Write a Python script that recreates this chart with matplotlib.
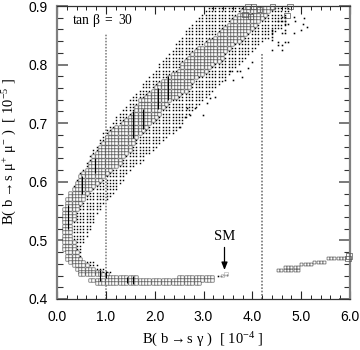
import numpy as np
import matplotlib
matplotlib.use("Agg")
import matplotlib.pyplot as plt

plt.rcParams['font.family'] = ['Liberation Sans', 'DejaVu Sans']
plt.rcParams['mathtext.fontset'] = 'custom'
plt.rcParams['mathtext.rm'] = 'Liberation Serif'
plt.rcParams['mathtext.it'] = 'Liberation Serif'
plt.rcParams['mathtext.bf'] = 'Liberation Serif:bold'
plt.rcParams['mathtext.fallback'] = 'stix'

# scan rows: B(b->s mu mu), then extents of the dots and of the boxes in B(b->s gamma)
row_y = [.8966,.8910,.8853,.8797,.8741,.8684,.8628,.8572,.8515,.8459,.8403,.8347,.8290,.8234,.8178,.8121,
         .8065,.8009,.7952,.7896,.7840,.7783,.7727,.7671,.7614,.7558,.7502,.7445,.7389,.7333,.7276,.7220,
         .7164,.7107,.7051,.6995,.6938,.6882,.6826,.6769,.6713,.6657,.6601,.6544,.6488,.6432,.6375,.6319,
         .6263,.6206,.6150,.6094,.6038,.5981,.5925,.5869,.5812,.5756,.5700,.5643,.5587,.5531,.5474,.5418,
         .5362,.5306,.5249,.5193,.5137,.5080,.5024,.4968,.4911,.4855,.4799,.4742,.4686,.4630,.4574,.4518,.4461]
dot_left = [3.05,2.99,2.93,2.86,2.80,2.73,2.67,2.61,2.57,2.55,2.50,2.43,2.37,2.30,2.24,2.19,
            2.14,2.08,2.03,1.97,1.92,1.86,1.81,1.75,1.70,1.64,1.59,1.54,1.48,1.43,1.37,1.32,
            1.26,1.21,1.15,1.10,1.05,.99,.94,.90,.86,.82,.78,.74,.70,.66,.62,.59,
            .55,.51,.47,.43,.40,.36,.33,.29,.26,.23,.21,.19,.17,.15,.12,.10,
            .10,.10,.10,.10,.10,.10,.11,.13,.15,.17,.18,.20,.25,.30,.45,.42,.45]
dot_right = [4.77,4.75,4.73,4.71,4.69,4.67,4.60,4.52,4.44,4.35,4.24,4.17,4.11,4.04,3.97,3.90,
             3.83,3.77,3.70,3.63,3.55,3.48,3.40,3.33,3.26,3.19,3.13,3.07,3.01,2.95,2.89,2.82,
             2.75,2.68,2.62,2.60,2.54,2.46,2.37,2.29,2.21,2.13,2.05,1.97,1.90,1.82,1.76,1.69,
             1.62,1.54,1.47,1.40,1.36,1.32,1.27,1.23,1.16,1.09,1.02,.98,.93,.89,.84,.81,
             .79,.76,.73,.69,.65,.61,.58,.56,.54,.52,.50,.49,.48,.78,.85,.97,1.10]
box_left = [3.85,3.77,3.70,3.63,3.56,3.49,3.42,3.35,3.27,3.19,3.10,2.98,2.87,2.78,2.72,2.66,
            2.61,2.56,2.52,2.46,2.36,2.25,2.16,2.08,2.02,1.96,1.87,1.78,1.69,1.65,1.61,1.57,
            1.53,1.47,1.38,1.29,1.20,1.11,1.04,1.00,.96,.91,.87,.82,.78,.74,.70,.66,
            .62,.56,.50,.46,.42,.39,.35,.31,.26,.22,.19,.17,.15,.13,.11,.10,
            .10,.10,.10,.10,.10,.10,.10,.11,.12,.13,.15,.17,.20,.23,.29,.35,.42]
box_right = [4.40,4.33,4.28,4.24,4.17,4.09,4.00,3.93,3.86,3.80,3.72,3.64,3.56,3.48,3.43,3.38,
             3.32,3.24,3.15,3.07,2.98,2.90,2.82,2.77,2.72,2.66,2.56,2.45,2.35,2.28,2.22,2.16,
             2.10,2.04,1.97,1.90,1.84,1.77,1.70,1.66,1.62,1.58,1.54,1.50,1.45,1.39,1.34,1.29,
             1.22,1.14,1.08,1.01,.94,.87,.79,.73,.66,.60,.55,.50,.46,.42,.39,.37,
             .35,.33,.31,.31,.31,.31,.32,.35,.37,.40,.43,.47,.52,.58,.67,.75,.92]

# lower branch and right-hand branch: row value, start, stop
low_y = [.4430, .4375, .4375, .4319, .4268]
low_left = [.45, .98, 2.50, .63, .78]
low_right = [1.05, 1.66, 3.24, 3.24, 2.93]
right_y = [.4495, .4500, .4550, .4600, .4635, .4700]
right_left = [4.47, 4.62, 4.62, 4.95, 5.22, 5.49]
right_right = [4.62, 4.95, 4.95, 5.25, 5.49, 5.93]

# isolated points
stray_x = [5.06,5.04,5.12,5.00,4.85,4.87,4.85,4.67,4.61,4.53,4.73,4.67,4.53,4.61,4.40,4.61,4.67,4.73,4.67,
           4.40,4.40,4.40,4.40,4.61,4.67,4.61,4.53,4.67,3.99,3.91,3.79,3.60,3.44,3.24,3.13,3.07,2.99,2.83,
           2.72,2.62,2.66,2.52,3.69,3.75,3.54,3.30,3.36,3.42,3.48]
stray_y = [.8795,.869,.864,.859,.854,.874,.881,.854,.854,.839,.839,.839,.833,.833,.825,.825,.869,.869,.859,
           .859,.854,.847,.842,.881,.881,.874,.874,.874,.804,.794,.779,.774,.774,.745,.743,.735,.714,.726,
           .714,.711,.726,.693,.789,.789,.789,.4385,.4395,.4405,.4405]
big_x = [3.91, 4.03, 4.42, 4.77, 4.71, 3.97, 4.14, 3.85, 5.96, 5.98]
big_y = [.8990, .8990, .8990, .8990, .8840, .8820, .8940, .8860, .4690, .4735]
seam_x = [.78, 1.56, 1.76, 2.07, 2.27, .22, .51, .88, 1.56, 1.00, 1.43]
seam_lo = [.615, .675, .690, .725, .740, .520, .580, .430, .426, .435, .428]
seam_hi = [.640, .720, .725, .760, .780, .560, .610, .450, .440, .447, .438]
sm_x = [3.38, 3.46]
sm_y = [.4395, .4440]

xticks = [0, 1, 2, 3, 4, 5, 6]
yticks = [.4, .5, .6, .7, .8, .9]
step = 0.0676


def lattice(ys, lefts, rights):
    xs, yy = [], []
    for y, a, b in zip(ys, lefts, rights):
        k = np.arange(np.ceil(a / step), np.floor(b / step) + 1)
        xs.extend(k * step)
        yy.extend([y] * len(k))
    return xs, yy


fig = plt.figure(figsize=(3.6, 3.5), dpi=100)
ax = fig.add_axes([57 / 360, 51 / 350, 293 / 360, 293 / 350])
ax.set_xlim(0, 6)
ax.set_ylim(.4, .9)

ax.plot([1, 1], [.4, .852], ls=(0, (1, 1)), lw=1.1, color='#777777', zorder=1)
ax.plot([4.2, 4.2], [.4, .82], ls=(0, (1, 1)), lw=1.2, color='#777777', zorder=1)

dx, dy = lattice(row_y, dot_left, dot_right)
dots = ax.scatter(dx, dy, s=1.1, marker='s', c='black', linewidths=0, zorder=2)
dots.set_snap(False)
strays = ax.scatter(stray_x, stray_y, s=1.3, marker='s', c='black', linewidths=0, zorder=2)
strays.set_snap(False)

bx, by = lattice(row_y + low_y, box_left + low_left, box_right + low_right)
boxes = ax.scatter(bx, by, s=5.6, marker='s', facecolors='white', edgecolors='#222222', linewidths=.36, zorder=3)
boxes.set_snap(False)
rx, ry = lattice(right_y, right_left, right_right)
rboxes = ax.scatter(rx, ry, s=4.5, marker='s', facecolors='white', edgecolors='#222222', linewidths=.36, zorder=3)
rboxes.set_snap(False)
ax.scatter(big_x, big_y, s=14, marker='s', facecolors='none', edgecolors='#555555', linewidths=.5,
           zorder=3, clip_on=False)
ax.scatter(sm_x, sm_y, s=5, marker='s', facecolors='none', edgecolors='#bbbbbb', linewidths=.5, zorder=3)
ax.vlines(seam_x, seam_lo, seam_hi, color='black', lw=.8, zorder=4)

ax.set_xticks(xticks)
ax.set_xticklabels(['%.1f' % v for v in xticks])
ax.set_yticks(yticks)
ax.set_yticklabels(['%.1f' % v for v in yticks])
ax.set_xticks(np.arange(0, 6.01, .2), minor=True)
ax.set_yticks(np.arange(.4, .901, .02), minor=True)
ax.tick_params(axis='x', which='major', direction='in', top=True, length=6, width=.8, color='#222222',
               labelsize=10, pad=8)
ax.tick_params(axis='x', which='minor', direction='in', top=True, length=3, width=.7, color='#222222')
ax.tick_params(axis='y', which='major', direction='in', right=True, length=8, width=1.1, color='#555555',
               labelsize=10, pad=7)
ax.tick_params(axis='y', which='minor', direction='in', right=True, length=4, width=.8, color='#333333')
for s in ['left', 'right']:
    ax.spines[s].set_linewidth(1.6)
    ax.spines[s].set_color('#808080')
for s in ['top', 'bottom']:
    ax.spines[s].set_linewidth(.9)
    ax.spines[s].set_color('#333333')

ax.text(.31, .875, r'$\mathrm{tan}\ \beta\ =\ 30$', fontsize=9.8, va='center', zorder=5)
ax.annotate('', xy=(3.43, .4495), xytext=(3.43, .488),
            arrowprops=dict(arrowstyle='-|>,head_width=.18,head_length=.45', lw=.9, color='black', shrinkA=0, shrinkB=0))
ax.text(3.43, .507, 'SM', family='Liberation Serif', fontsize=10.5, ha='center', va='center')

fig.text(203 / 360, 1 - 340 / 350, r'$\mathrm{B(\ b\rightarrow s\ \gamma\ )\ \ [\ 10^{-4}\ ]}$',
         fontsize=10.5, ha='center', va='center')
fig.text(10 / 360, 1 - 152 / 350, r'$\mathrm{B(\ b\rightarrow s\ \mu^{+}\ \mu^{-}\ )\ \ [\ 10^{-5}\ ]}$',
         fontsize=10.5, rotation=90, ha='center', va='center')

fig.savefig('out.png', dpi=100)
